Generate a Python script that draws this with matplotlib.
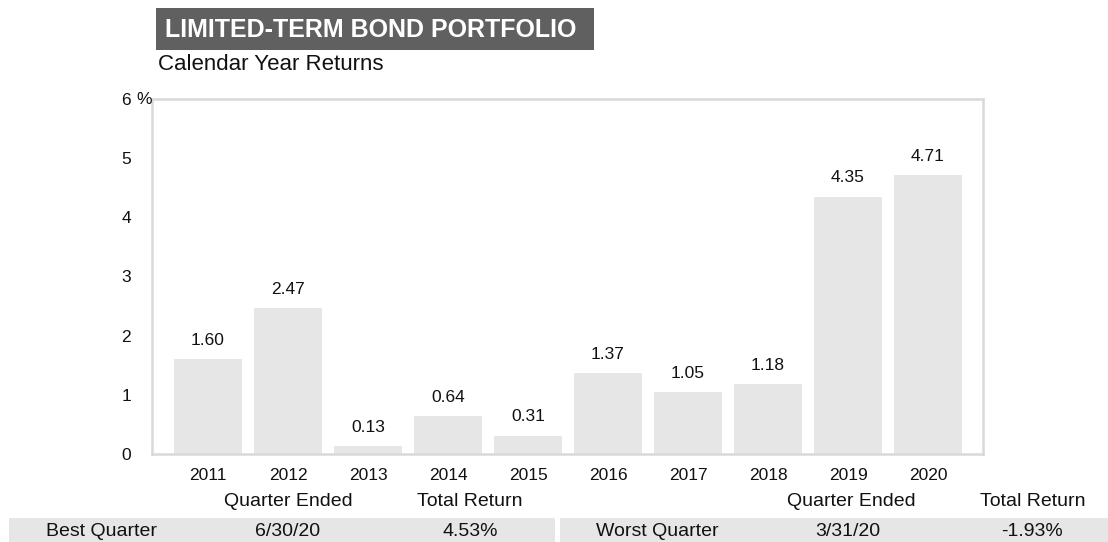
import matplotlib
matplotlib.use("Agg")
import matplotlib.pyplot as plt
from matplotlib.patches import Rectangle

plt.rcParams['font.family'] = ['Liberation Sans', 'DejaVu Sans']

# datos
years = ['2011', '2012', '2013', '2014', '2015', '2016', '2017', '2018', '2019', '2020']
returns = [1.60, 2.47, 0.13, 0.64, 0.31, 1.37, 1.05, 1.18, 4.35, 4.71]
yticks = [0, 1, 2, 3, 4, 5, 6]

best_row = ['Best Quarter', '6/30/20', '4.53%']
worst_row = ['Worst Quarter', '3/31/20', '-1.93%']
col_heads = ['Quarter Ended', 'Total Return']

W, H = 1108, 542
fig = plt.figure(figsize=(W / 100, H / 100), dpi=100)

def px(x, y):
    # pixel -> figure fraction
    return x / W, 1 - y / H

ax = fig.add_axes([152 / W, 1 - 454 / H, (983 - 152) / W, (454 - 99) / H])
x = list(range(len(years)))
bars = ax.bar(x, returns, width=0.85, color='#e6e6e6', zorder=2)
for xi, v in zip(x, returns):
    ax.annotate(f'{v:.2f}', (xi, v), xytext=(0, 13.5), textcoords='offset points',
                ha='center', va='center', fontsize=12.5, color='#111111')

ax.set_xlim(-0.7, 9.6875)
ax.set_ylim(0, 6)
ax.set_yticks(yticks)
ax.set_yticklabels([str(t) for t in yticks])
ax.set_xticks(x)
ax.set_xticklabels(years)
ax.tick_params(axis='both', length=0, labelsize=12.5, colors='#111111')
ax.tick_params(axis='y', pad=15)
ax.tick_params(axis='x', pad=10)
for s in ax.spines.values():
    s.set_color('#d9d9d9')
    s.set_linewidth(1.8)

# % junto al 6
fx, fy = px(136, 99)
fig.text(fx, fy, '%', ha='left', va='center', fontsize=12.5, color='#111111')

# cabecera
x0, y0 = px(156, 50)
fig.patches.append(Rectangle((x0, y0), (594 - 156) / W, 42 / H, transform=fig.transFigure,
                             facecolor='#606060', edgecolor='none'))
fx, fy = px(165, 30)
fig.text(fx, fy, 'LIMITED-TERM BOND PORTFOLIO', ha='left', va='center',
         fontsize=18, fontweight='bold', color='white')
fx, fy = px(158, 65)
fig.text(fx, fy, 'Calendar Year Returns', ha='left', va='center', fontsize=16, color='#111111')

# tabla inferior
for xl, xr in [(9, 555), (560, 1108)]:
    bx, by = px(xl, 542)
    fig.patches.append(Rectangle((bx, by), (xr - xl) / W, 24 / H, transform=fig.transFigure,
                                 facecolor='#e6e6e6', edgecolor='none'))

for cx, txt in zip([288, 470, 851, 1033], col_heads * 2):
    fx, fy = px(cx, 501)
    fig.text(fx, fy, txt, ha='center', va='center', fontsize=14, color='#111111')

for cx, txt in zip([102, 288, 470], best_row):
    fx, fy = px(cx, 531)
    fig.text(fx, fy, txt, ha='center', va='center', fontsize=14, color='#111111')
for cx, txt in zip([657, 848, 1032], worst_row):
    fx, fy = px(cx, 531)
    fig.text(fx, fy, txt, ha='center', va='center', fontsize=14, color='#111111')

fig.savefig('out.png', dpi=100)
